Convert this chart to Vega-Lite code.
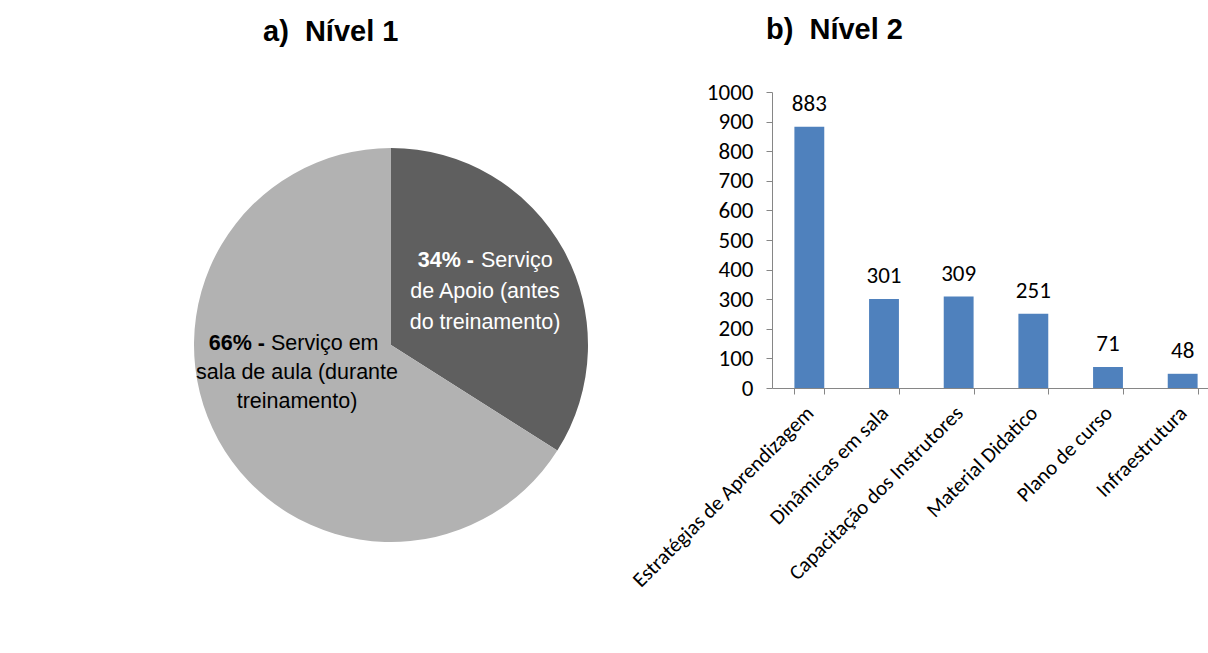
{
  "$schema": "https://vega.github.io/schema/vega-lite/v6.json",
  "background": "white",
  "padding": {"left": 10, "top": 16, "right": 0, "bottom": 0},
  "bounds": "flush",
  "spacing": 0,
  "config": {
    "view": {"stroke": null, "fill": "white"},
    "title": {"font": "Liberation Sans", "fontSize": 29, "fontWeight": "bold", "color": "black", "anchor": "start", "frame": "group", "baseline": "alphabetic"}
  },
  "hconcat": [
    {
      "width": 762,
      "height": 506,
      "title": {"text": "a)\u00a0\u00a0Nível 1", "dx": 253, "offset": 45},
      "data": {
        "values": [
          {"servico": "Serviço de Apoio (antes do treinamento)", "percentual": 34, "destaque": "34% -", "linha1": "Serviço", "linhas": "de Apoio (antes\ndo treinamento)"},
          {"servico": "Serviço em sala de aula (durante treinamento)", "percentual": 66, "destaque": "66% -", "linha1": "Serviço em", "linhas": "sala de aula (durante\ntreinamento)"}
        ]
      },
      "layer": [
        {
          "mark": {"type": "arc", "outerRadius": 197},
          "encoding": {
            "theta": {"field": "percentual", "type": "quantitative", "stack": true},
            "order": {"field": "percentual", "sort": "ascending"},
            "color": {"field": "servico", "type": "nominal", "legend": null,
              "scale": {"domain": ["Serviço de Apoio (antes do treinamento)", "Serviço em sala de aula (durante treinamento)"], "range": ["#5f5f5f", "#b2b2b2"]}}
          }
        },
        {
          "transform": [{"filter": "datum.percentual == 34"}],
          "mark": {"type": "text", "font": "Liberation Sans", "fontSize": 21.5, "fontWeight": "bold", "color": "white", "align": "right", "baseline": "alphabetic", "dx": 83, "dy": -78},
          "encoding": {"text": {"field": "destaque"}}
        },
        {
          "transform": [{"filter": "datum.percentual == 34"}],
          "mark": {"type": "text", "font": "Liberation Sans", "fontSize": 21.5, "color": "white", "align": "left", "baseline": "alphabetic", "dx": 90, "dy": -78},
          "encoding": {"text": {"field": "linha1"}}
        },
        {
          "transform": [{"filter": "datum.percentual == 34"}],
          "mark": {"type": "text", "font": "Liberation Sans", "fontSize": 21.5, "color": "white", "align": "center", "baseline": "alphabetic", "dx": 94, "dy": -47, "lineBreak": "\n", "lineHeight": 30.5},
          "encoding": {"text": {"field": "linhas"}}
        },
        {
          "transform": [{"filter": "datum.percentual == 66"}],
          "mark": {"type": "text", "font": "Liberation Sans", "fontSize": 21.5, "fontWeight": "bold", "color": "black", "align": "right", "baseline": "alphabetic", "dx": -126, "dy": 5},
          "encoding": {"text": {"field": "destaque"}}
        },
        {
          "transform": [{"filter": "datum.percentual == 66"}],
          "mark": {"type": "text", "font": "Liberation Sans", "fontSize": 21.5, "color": "black", "align": "left", "baseline": "alphabetic", "dx": -120, "dy": 5},
          "encoding": {"text": {"field": "linha1"}}
        },
        {
          "transform": [{"filter": "datum.percentual == 66"}],
          "mark": {"type": "text", "font": "Liberation Sans", "fontSize": 21.5, "color": "black", "align": "center", "baseline": "alphabetic", "dx": -94, "dy": 34, "lineBreak": "\n", "lineHeight": 28.5},
          "encoding": {"text": {"field": "linhas"}}
        }
      ]
    },
    {
      "width": 448,
      "height": 296,
      "title": {"text": "b)\u00a0\u00a0Nível 2", "dx": -6, "offset": 36},
      "data": {
        "values": [
          {"categoria": "Estratégias de Aprendizagem", "total": 883},
          {"categoria": "Dinâmicas em sala", "total": 301},
          {"categoria": "Capacitação dos Instrutores", "total": 309},
          {"categoria": "Material Didatico", "total": 251},
          {"categoria": "Plano de curso", "total": 71},
          {"categoria": "Infraestrutura", "total": 48}
        ]
      },
      "encoding": {
        "x": {
          "field": "categoria", "type": "nominal", "sort": null,
          "scale": {"paddingInner": 0.6, "paddingOuter": 0.3},
          "axis": {"title": null, "labelAngle": -45, "tickBand": "extent", "domainColor": "#868686", "tickColor": "#868686", "tickSize": 6, "labelFont": "Calibri, Carlito, Lato, sans-serif", "labelFontSize": 21, "labelColor": "black", "labelPadding": 8, "labelOffset": -7, "labelLimit": 400, "labelOverlap": false}
        },
        "y": {
          "field": "total", "type": "quantitative",
          "scale": {"domain": [0, 1000]},
          "axis": {"title": null, "format": "d", "values": [0, 100, 200, 300, 400, 500, 600, 700, 800, 900, 1000], "grid": false, "domainColor": "#868686", "tickColor": "#868686", "tickSize": 6, "labelFont": "Calibri, Carlito, Lato, sans-serif", "labelFontSize": 23, "labelColor": "black", "labelPadding": 13, "labelOverlap": false}
        }
      },
      "layer": [
        {"mark": {"type": "bar", "color": "#4F81BD"}},
        {
          "mark": {"type": "text", "font": "Calibri, Carlito, Lato, sans-serif", "fontSize": 23, "color": "black", "baseline": "alphabetic", "dy": -16},
          "encoding": {"text": {"field": "total", "type": "quantitative"}}
        }
      ]
    }
  ]
}
